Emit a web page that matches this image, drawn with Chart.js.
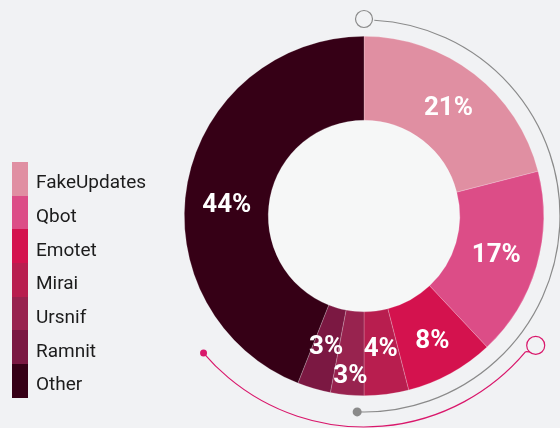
<!DOCTYPE html>
<html>
<head>
<meta charset="utf-8">
<script src="https://cdn.jsdelivr.net/npm/chart.js@4.4.1/dist/chart.umd.min.js"></script>
<style>
  html, body { margin: 0; padding: 0; background: #f1f2f4; }
  #wrap { position: relative; width: 560px; height: 428px; }
  #legend { position: absolute; left: 12px; top: 162px; font-family: Roboto, sans-serif; }
  .item { display: flex; align-items: center; height: 33.7px; }
  .sw { width: 16px; height: 100%; }
  .lbl { margin-left: 8px; font-size: 19px; color: #1c1c1c; padding-top: 6px; }
</style>
</head>
<body>
<div id="wrap">
  <canvas id="chart" width="560" height="428"></canvas>
  <div id="legend"></div>
</div>
<script>
const labels = ["FakeUpdates", "Qbot", "Emotet", "Mirai", "Ursnif", "Ramnit", "Other"];
const shares = [21, 17, 8, 4, 3, 3, 44];
const colors = ["#e08fa2", "#dc4d87", "#d4124e", "#b81e4f", "#98234f", "#7b1842", "#360016"];

// label nudges: [extra radius, angle shift in degrees]
const nudges = [[0, 0], [0, 0], [4, 0], [-4, 0], [22, -0.5], [-2, 0], [0, -6]];

// legend
const legendBox = document.getElementById("legend");
labels.forEach((name, i) => {
  const row = document.createElement("div");
  row.className = "item";
  row.innerHTML = `<div class="sw" style="background:${colors[i]}"></div><div class="lbl">${name}</div>`;
  legendBox.appendChild(row);
});

const deg = Math.PI / 180;

const decorPlugin = {
  id: "decor",
  beforeDatasetsDraw(chart) {
    const arc = chart.getDatasetMeta(0).data[0];
    const { x, y, innerRadius } = arc;
    const ctx = chart.ctx;
    ctx.save();
    // inner disc
    ctx.fillStyle = "#f6f7f7";
    ctx.beginPath();
    ctx.arc(x, y, innerRadius, 0, Math.PI * 2);
    ctx.fill();

    // grey ring
    const rg = 196;
    ctx.strokeStyle = "#8a8a8a";
    ctx.lineWidth = 1.2;
    ctx.beginPath();
    ctx.arc(x, y, rg, -87 * deg, 92 * deg);
    ctx.stroke();
    ctx.beginPath();
    ctx.arc(x, y - 197, 8.5, 0, Math.PI * 2);
    ctx.stroke();
    ctx.fillStyle = "#8a8a8a";
    ctx.beginPath();
    ctx.arc(x + rg * Math.cos(92 * deg), y + rg * Math.sin(92 * deg), 4.5, 0, Math.PI * 2);
    ctx.fill();

    // pink ring
    const rp = 211;
    ctx.strokeStyle = "#d9176b";
    ctx.lineWidth = 1.2;
    ctx.beginPath();
    ctx.arc(x, y, rp, 40 * deg, 139.5 * deg);
    ctx.stroke();
    const cx = x + 215 * Math.cos(37 * deg), cy = y + 215 * Math.sin(37 * deg);
    ctx.beginPath();
    ctx.moveTo(x + rp * Math.cos(40 * deg), y + rp * Math.sin(40 * deg));
    ctx.lineTo(cx - 6, cy + 6.5);
    ctx.stroke();
    ctx.beginPath();
    ctx.arc(cx, cy, 9, 0, Math.PI * 2);
    ctx.stroke();
    ctx.fillStyle = "#d9176b";
    ctx.beginPath();
    ctx.arc(x + rp * Math.cos(139.5 * deg), y + rp * Math.sin(139.5 * deg), 3.5, 0, Math.PI * 2);
    ctx.fill();
    ctx.restore();
  },
  afterDatasetsDraw(chart) {
    const ctx = chart.ctx;
    ctx.save();
    ctx.fillStyle = "#ffffff";
    ctx.font = "bold 26px Roboto, sans-serif";
    ctx.textAlign = "center";
    ctx.textBaseline = "middle";
    chart.getDatasetMeta(0).data.forEach((el, i) => {
      const p = el.getProps(["x", "y", "startAngle", "endAngle", "innerRadius", "outerRadius"]);
      const a = (p.startAngle + p.endAngle) / 2 + nudges[i][1] * deg;
      const r = (p.innerRadius + p.outerRadius) / 2 + nudges[i][0];
      ctx.fillText(shares[i] + "%", p.x + r * Math.cos(a), p.y + r * Math.sin(a) + 1);
    });
    ctx.restore();
  }
};

new Chart(document.getElementById("chart"), {
  type: "doughnut",
  data: {
    labels: labels,
    datasets: [{
      data: shares,
      backgroundColor: colors,
      borderColor: "rgba(255,255,255,0.35)",
      borderWidth: 0.6
    }]
  },
  options: {
    responsive: false,
    animation: false,
    cutout: "53.3%",
    layout: { padding: { left: 184, right: 16, top: 36, bottom: 32 } },
    plugins: {
      legend: { display: false },
      tooltip: { enabled: false }
    }
  },
  plugins: [decorPlugin]
});
</script>
</body>
</html>
